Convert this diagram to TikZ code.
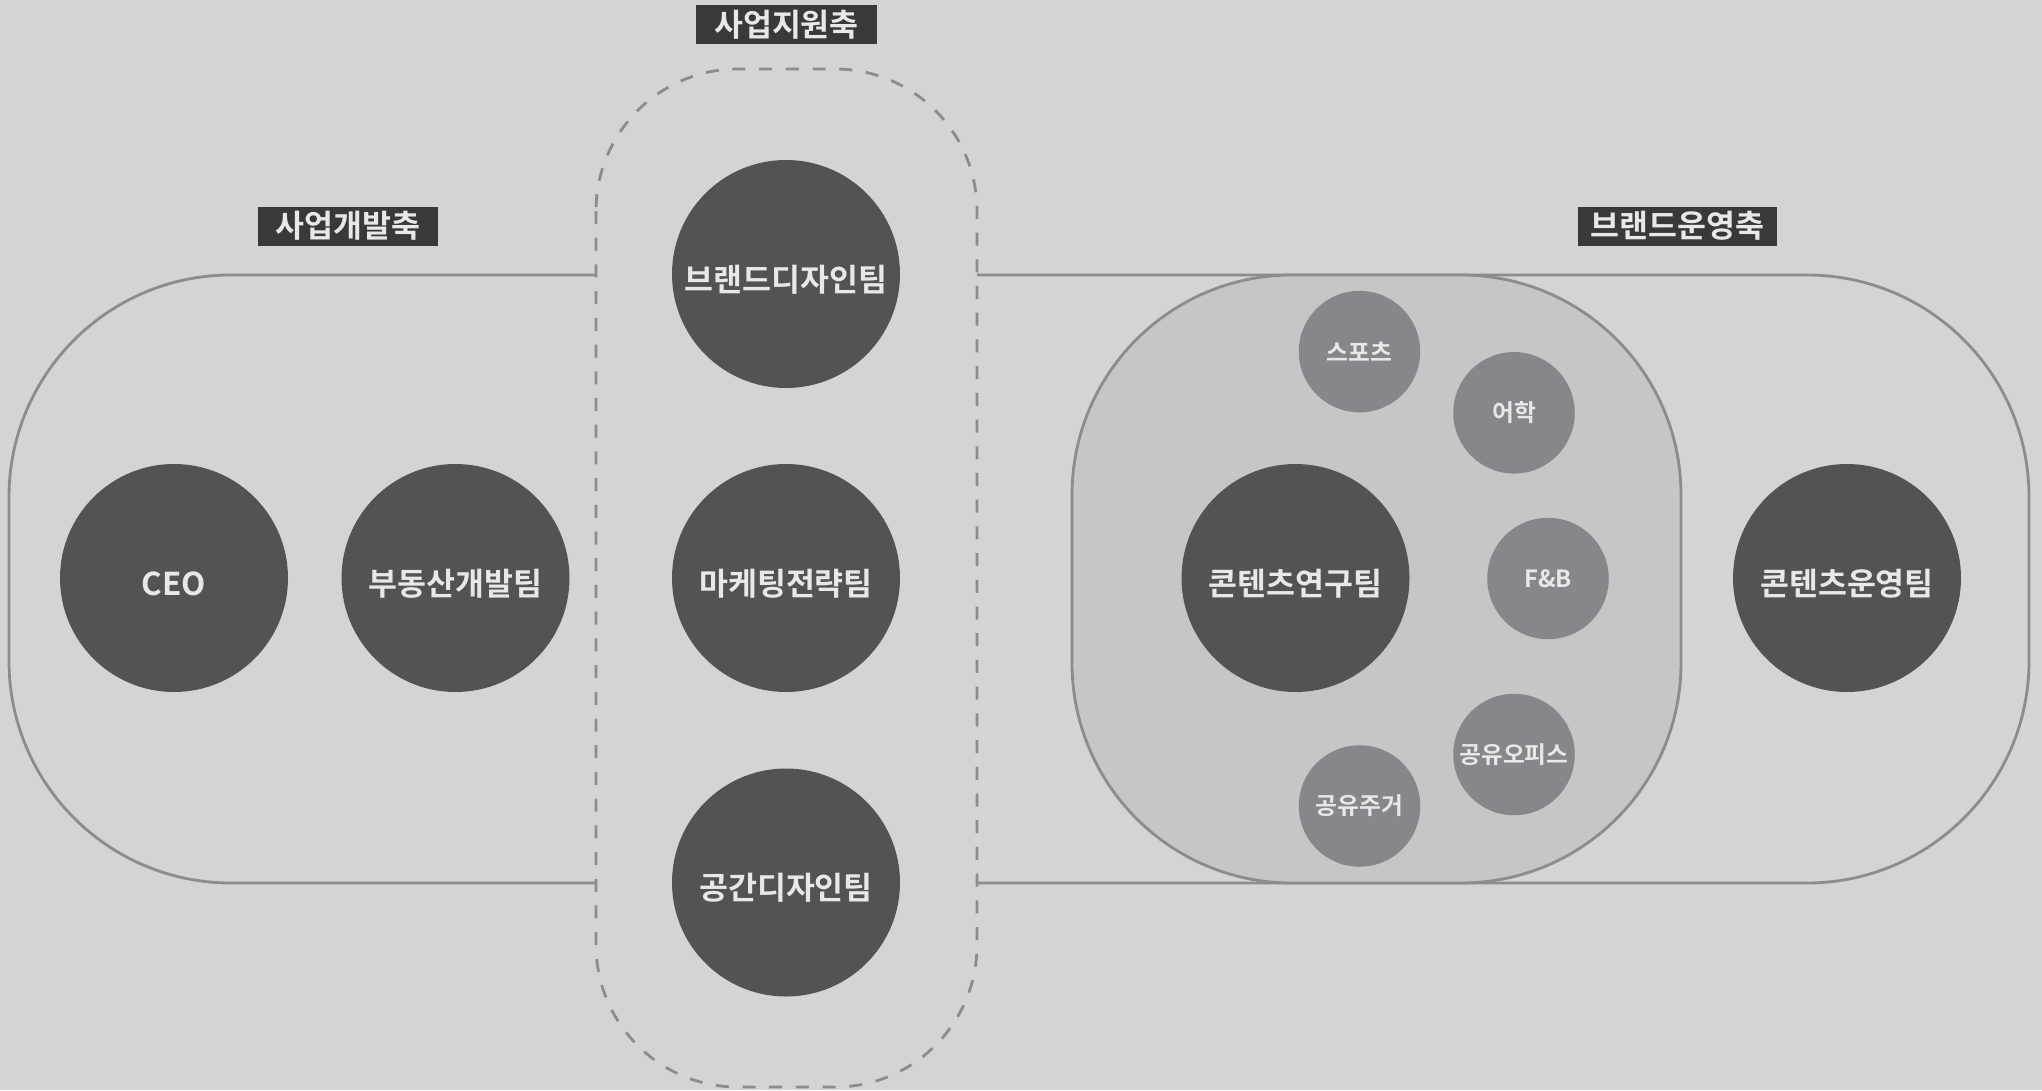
\documentclass[tikz,border=0pt]{standalone}
\usepackage{fontspec}
\newfontfamily\kr{Noto Sans CJK KR}[BoldFont={Noto Sans CJK KR Bold}]
\definecolor{bgc}{HTML}{D4D4D4}
\definecolor{innerc}{HTML}{C6C6C6}
\definecolor{darkc}{HTML}{525355}
\definecolor{smallc}{HTML}{86878B}
\definecolor{linec}{HTML}{8C8C8E}
\definecolor{titlec}{HTML}{383A39}
\definecolor{txtc}{HTML}{E8E8E8}
\tikzset{
  bigteam/.style={circle, fill=darkc, minimum size=22.8mm, inner sep=0pt,
    text height=3.4mm, text depth=0mm,
    text=txtc, font=\kr\bfseries\fontsize{8.95pt}{9pt}\selectfont},
  subteam/.style={circle, fill=smallc, minimum size=12.15mm, inner sep=0pt,
    text=txtc, font=\kr\bfseries\fontsize{6.75pt}{7pt}\selectfont},
  axistitle/.style={fill=titlec, minimum height=3.9mm, inner sep=0pt,
    text=txtc, font=\kr\bfseries\fontsize{8.95pt}{9pt}\selectfont},
  frame/.style={draw=linec, line width=0.8pt},
}
\begin{document}
\begin{tikzpicture}[x=0.1mm, y=-0.1mm]
\fill[bgc] (0,0) rectangle (2042,1090);
\useasboundingbox (0,0) rectangle (2042,1090);
% left axis frame
\draw[frame, rounded corners=22.2mm] (596,275) -- (9,275) -- (9,883) -- (596,883);
% right axis frame
\draw[frame, rounded corners=22.2mm] (977,275) -- (2029,275) -- (2029,883) -- (977,883);
% inner content group
\draw[frame, fill=innerc, rounded corners=22mm] (1072,275) rectangle (1681,883);
% support axis dashed frame
\draw[frame, dash pattern=on 3.7pt off 3.9pt, rounded corners=14.2mm] (596,69) rectangle (977,1087);

% titles
\node[axistitle, minimum width=18.1mm] (t1) at (786.5,24.5) {사업지원축};
\node[axistitle, minimum width=18.0mm] (t2) at (348,226) {사업개발축};
\node[axistitle, minimum width=19.9mm] (t3) at (1677.5,226) {브랜드운영축};

% big teams
\node[bigteam] (ceo) at (174,578) {CEO};
\node[bigteam] (re) at (455.5,578) {부동산개발팀};
\node[bigteam] (bd) at (786,274) {브랜드디자인팀};
\node[bigteam] (mk) at (786,578) {마케팅전략팀};
\node[bigteam] (sd) at (786,882.5) {공간디자인팀};
\node[bigteam] (cr) at (1295.5,578) {콘텐츠연구팀};
\node[bigteam] (co) at (1847,578) {콘텐츠운영팀};

% sub areas
\node[subteam] (sp) at (1359.5,351.6) {스포츠};
\node[subteam] (lang) at (1514,412.8) {어학};
\node[subteam] (fb) at (1548,578.5) {F\&B};
\node[subteam] (of) at (1514,754.5) {공유오피스};
\node[subteam] (ho) at (1359.5,806) {공유주거};
\end{tikzpicture}
\end{document}
